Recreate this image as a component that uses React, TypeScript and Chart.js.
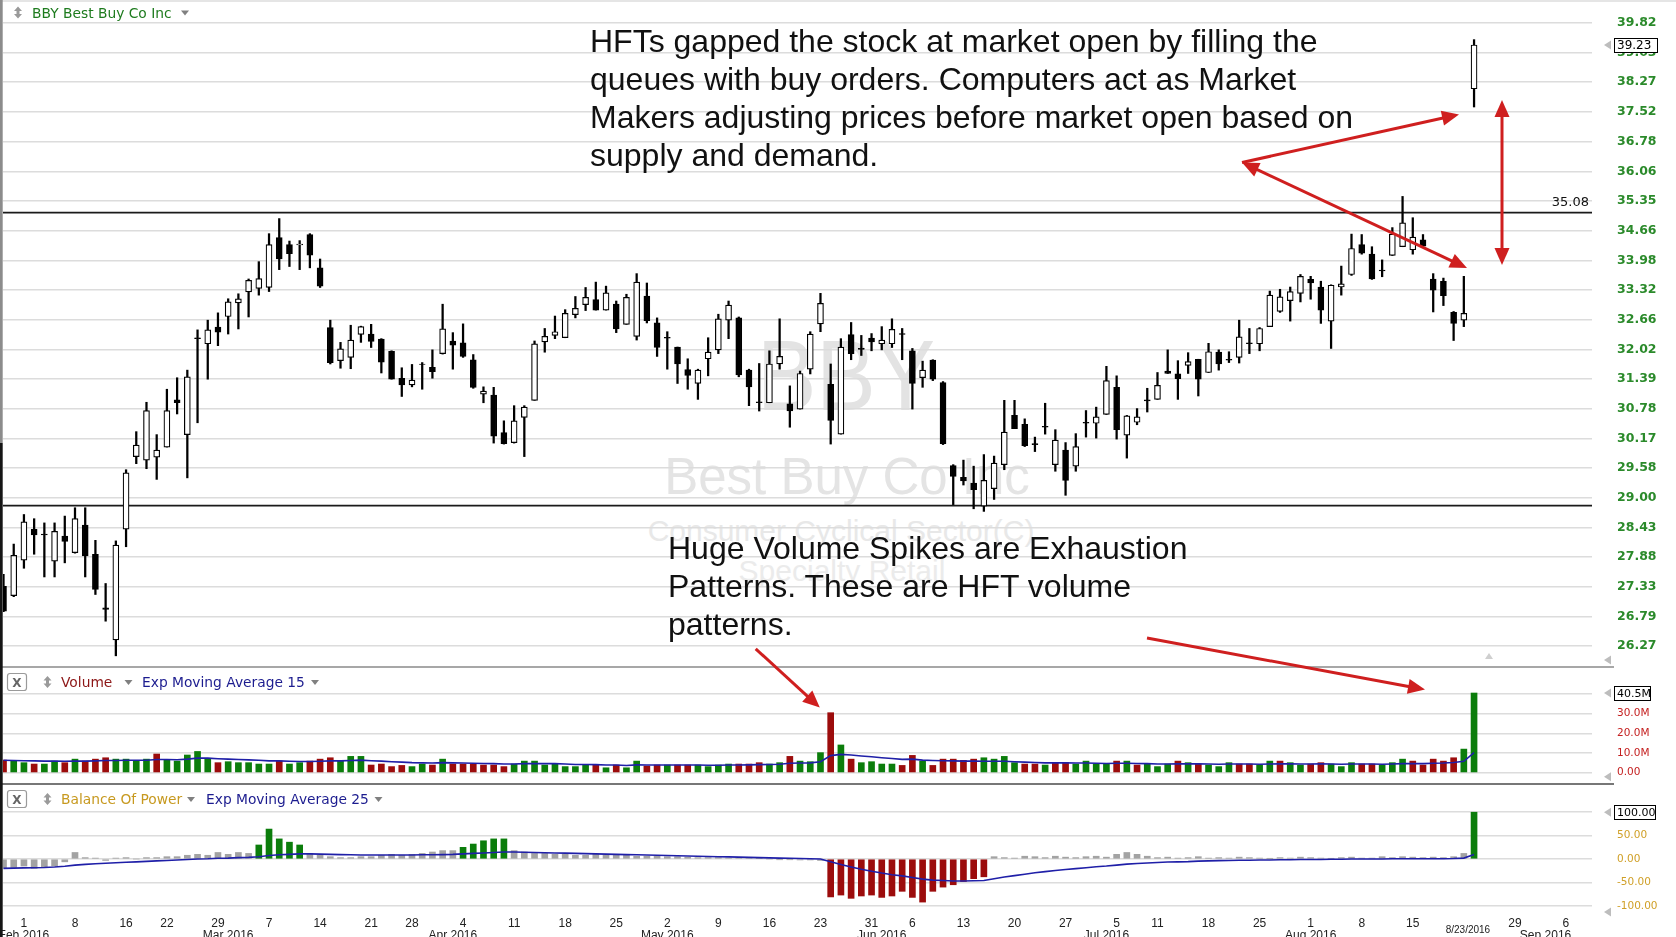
import React, { useEffect, useRef } from 'react';
import { Chart, registerables } from 'chart.js';

Chart.register(...registerables);

// ---------------- data (trading-day index: 0 = Feb 1 2016) ----------------
const FIRST_INDEX = -2;

const opens = [
  27.34, 27.17, 27.82, 28.40, 28.31, 27.80, 28.27, 27.96, 28.48, 27.93,
  26.95, 26.38, 28.40, 29.81, 29.74, 29.80, 30.00, 30.96, 30.25, 32.27,
  32.14, 32.50, 32.73, 33.03, 33.27, 33.35, 33.37, 34.50, 34.34, 34.33,
  34.57, 33.81, 32.49, 31.78, 31.85, 32.34, 32.35, 32.24, 31.98, 31.41,
  31.27, 31.71, 31.64, 31.93, 32.20, 32.16, 31.80, 31.08, 31.06, 30.29,
  30.09, 30.60, 30.95, 32.18, 32.32, 32.27, 32.77, 32.99, 33.10, 32.87,
  33.00, 32.56, 32.30, 33.18, 32.59, 32.28, 32.07, 31.59, 31.30, 31.82,
  32.01, 32.65, 32.70, 31.58, 30.92, 30.90, 31.71, 30.88, 30.77, 31.60,
  32.57, 31.28, 30.26, 32.34, 32.04, 32.26, 32.14, 32.14, 32.36, 31.99,
  31.42, 31.79, 31.32, 29.63, 29.40, 29.29, 28.84, 29.18, 29.65, 30.64,
  30.46, 30.07, 30.42, 29.65, 29.94, 29.62, 30.50, 30.48, 30.66, 31.22,
  30.24, 30.50, 30.96, 30.97, 31.56, 31.50, 31.68, 31.81, 31.53, 31.96,
  31.81, 31.85, 32.16, 32.14, 32.51, 32.84, 33.08, 33.24, 33.55, 33.38,
  32.63, 33.38, 33.66, 34.34, 34.12, 33.76, 34.09, 34.29, 34.22, 34.45,
  33.56, 33.51, 32.82, 32.65, 38.10,
];
const highs = [
  27.56, 28.12, 28.68, 28.60, 28.52, 28.52, 28.65, 28.81, 28.81, 28.19,
  27.39, 28.18, 29.55, 30.31, 30.91, 30.25, 31.18, 31.42, 31.58, 32.44,
  32.65, 32.81, 33.12, 33.23, 33.56, 33.95, 34.59, 34.94, 34.42, 34.43,
  34.59, 34.01, 32.65, 32.17, 32.54, 32.52, 32.56, 32.25, 31.99, 31.63,
  31.70, 31.74, 32.01, 33.00, 32.38, 32.57, 31.91, 31.23, 31.22, 30.53,
  30.84, 30.84, 32.20, 32.47, 32.74, 32.88, 33.17, 33.37, 33.49, 33.40,
  33.07, 33.22, 33.68, 33.47, 32.70, 32.40, 32.07, 31.82, 31.60, 32.27,
  32.78, 33.07, 32.72, 31.60, 31.72, 31.99, 32.68, 31.25, 31.56, 32.40,
  33.24, 31.71, 32.25, 32.60, 32.32, 32.36, 32.51, 32.68, 32.47, 32.04,
  31.77, 31.80, 31.34, 29.65, 29.74, 29.62, 29.85, 29.82, 30.95, 30.95,
  30.57, 30.20, 30.89, 30.35, 30.09, 30.27, 30.74, 30.81, 31.66, 31.46,
  30.64, 30.78, 31.20, 31.53, 32.01, 31.78, 31.95, 31.81, 32.15, 32.01,
  31.97, 32.65, 32.47, 32.49, 33.29, 33.33, 33.38, 33.66, 33.62, 33.51,
  33.43, 33.85, 34.58, 34.57, 34.29, 33.99, 34.73, 35.46, 34.96, 34.57,
  33.68, 33.58, 32.84, 33.62, 39.37,
];
const lows = [
  26.88, 27.15, 27.67, 27.93, 27.51, 27.51, 27.77, 27.95, 27.51, 27.19,
  26.71, 26.10, 28.07, 29.67, 29.57, 29.36, 30.00, 30.67, 29.39, 30.49,
  31.39, 32.10, 32.35, 32.46, 32.72, 33.20, 33.28, 33.77, 33.84, 33.77,
  33.81, 33.37, 31.71, 31.62, 31.61, 32.17, 32.06, 31.52, 31.39, 31.03,
  31.23, 31.18, 31.41, 31.92, 31.60, 31.85, 31.20, 30.90, 30.08, 30.06,
  30.08, 29.81, 30.95, 31.96, 32.25, 32.27, 32.70, 32.86, 32.87, 32.87,
  32.38, 32.56, 32.22, 32.59, 31.87, 31.60, 31.30, 31.18, 30.97, 31.46,
  31.93, 32.25, 31.44, 30.84, 30.73, 30.90, 31.60, 30.40, 30.77, 31.50,
  32.40, 30.06, 30.26, 31.80, 31.89, 31.99, 32.01, 32.06, 31.80, 30.77,
  31.22, 31.36, 30.05, 28.87, 29.25, 28.79, 28.74, 28.97, 29.55, 30.37,
  30.01, 29.91, 30.26, 29.52, 29.05, 29.52, 30.20, 30.18, 30.66, 30.16,
  29.78, 30.45, 30.71, 30.97, 31.51, 30.97, 31.51, 31.04, 31.53, 31.58,
  31.74, 31.73, 31.93, 31.99, 32.51, 32.82, 32.63, 33.05, 33.11, 32.58,
  32.04, 33.20, 33.64, 34.12, 33.55, 33.61, 34.09, 34.29, 34.12, 34.29,
  32.83, 32.97, 32.21, 32.51, 37.64,
];
const closes = [
  26.89, 27.91, 28.54, 28.29, 28.29, 28.36, 28.17, 28.60, 27.90, 27.28,
  26.92, 28.10, 29.49, 30.04, 30.74, 29.94, 30.74, 30.90, 31.44, 32.25,
  32.44, 32.39, 33.05, 33.12, 33.53, 33.57, 34.34, 34.01, 34.13, 34.35,
  34.10, 33.40, 31.74, 32.03, 32.22, 32.51, 32.19, 31.75, 31.39, 31.27,
  31.37, 31.70, 31.55, 32.46, 32.11, 31.87, 31.22, 31.14, 30.22, 30.07,
  30.53, 30.81, 32.14, 32.30, 32.40, 32.80, 32.91, 33.15, 32.87, 33.25,
  32.46, 33.15, 33.49, 32.64, 32.06, 32.26, 31.71, 31.47, 31.58, 31.96,
  32.68, 32.98, 31.48, 31.23, 30.90, 31.71, 31.87, 30.73, 31.51, 32.35,
  33.02, 30.54, 32.07, 31.93, 32.02, 32.18, 32.22, 32.45, 32.34, 31.30,
  31.58, 31.39, 30.07, 29.42, 29.33, 29.16, 29.34, 29.68, 30.30, 30.37,
  30.03, 30.05, 30.40, 30.14, 29.34, 30.01, 30.48, 30.61, 31.36, 30.35,
  30.63, 30.61, 30.94, 31.26, 31.51, 31.40, 31.76, 31.39, 31.97, 31.71,
  31.79, 32.29, 32.14, 32.47, 33.20, 33.16, 33.28, 33.62, 33.47, 32.87,
  33.42, 33.45, 34.25, 34.14, 33.56, 33.74, 34.58, 34.84, 34.51, 34.30,
  33.31, 33.19, 32.58, 32.80, 39.23,
];

// volume in millions of shares, 1 = up day (green), 0 = down day (red)
const volumesM = [
  6.4, 6.1, 5.1, 4.4, 4.4, 5.9, 5.1, 6.9, 5.9, 6.9,
  7.6, 6.9, 6.9, 5.9, 6.9, 9.5, 6.4, 5.9, 9.0, 10.8,
  7.3, 5.1, 5.6, 5.1, 5.1, 4.4, 4.4, 5.9, 4.4, 5.1,
  5.9, 6.9, 7.6, 6.1, 8.3, 8.3, 3.9, 4.4, 3.1, 3.7,
  3.1, 4.4, 3.9, 6.9, 4.4, 4.4, 4.4, 3.9, 3.9, 3.1,
  4.4, 5.9, 5.9, 3.9, 4.4, 3.1, 3.1, 3.9, 3.9, 2.5,
  3.9, 2.5, 5.9, 3.4, 3.9, 3.9, 3.9, 3.9, 3.9, 3.1,
  3.9, 4.4, 4.4, 4.4, 5.1, 4.4, 5.1, 8.3, 5.9, 5.6,
  10.2, 30.5, 14.1, 6.9, 5.1, 5.6, 4.4, 4.4, 3.7, 8.8,
  5.9, 3.7, 6.9, 6.9, 6.3, 6.9, 7.6, 6.9, 8.3, 5.1,
  4.4, 4.4, 3.9, 5.1, 5.1, 4.4, 5.9, 4.4, 4.4, 5.9,
  5.9, 3.9, 4.4, 3.1, 4.4, 5.9, 5.1, 4.4, 3.9, 3.1,
  5.1, 4.4, 4.4, 3.9, 5.9, 5.9, 5.1, 3.9, 4.4, 5.1,
  4.4, 3.1, 5.1, 4.4, 4.4, 3.9, 5.1, 6.9, 5.9, 3.9,
  6.9, 5.9, 7.6, 12.0, 40.5,
];
const volumeUp = [
  0, 1, 1, 0, 1, 1, 0, 1, 0, 0,
  0, 1, 1, 1, 1, 0, 1, 1, 1, 1,
  1, 0, 1, 1, 1, 1, 1, 0, 1, 1,
  0, 0, 0, 1, 1, 1, 0, 0, 0, 0,
  1, 1, 0, 1, 0, 0, 0, 0, 0, 0,
  1, 1, 1, 1, 1, 1, 1, 1, 0, 1,
  0, 1, 1, 0, 0, 1, 0, 0, 1, 1,
  1, 1, 0, 0, 0, 1, 1, 0, 1, 1,
  1, 0, 1, 0, 1, 1, 1, 1, 0, 0,
  1, 0, 0, 0, 0, 0, 1, 1, 1, 1,
  0, 0, 1, 0, 0, 1, 1, 1, 1, 0,
  1, 0, 1, 1, 1, 0, 1, 0, 1, 1,
  1, 0, 0, 1, 1, 0, 1, 1, 0, 0,
  1, 1, 1, 0, 0, 1, 1, 1, 0, 0,
  0, 0, 0, 1, 1,
];
const volumeEma15 = [
  6.3, 6.2, 6.1, 6.0, 5.9, 5.9, 5.8, 5.9, 5.9, 6.0,
  6.2, 6.2, 6.3, 6.3, 6.3, 6.7, 6.7, 6.6, 6.9, 7.4,
  7.4, 7.1, 6.9, 6.7, 6.5, 6.3, 6.0, 6.0, 5.8, 5.7,
  5.7, 5.8, 6.0, 6.0, 6.2, 6.4, 6.1, 5.9, 5.6, 5.4,
  5.1, 5.0, 4.9, 5.1, 5.0, 4.9, 4.8, 4.7, 4.6, 4.4,
  4.4, 4.6, 4.7, 4.6, 4.6, 4.4, 4.2, 4.2, 4.1, 3.9,
  3.9, 3.7, 4.0, 3.9, 3.9, 3.9, 3.9, 3.9, 3.9, 3.8,
  3.8, 3.9, 3.9, 4.0, 4.1, 4.2, 4.3, 4.8, 4.9, 5.0,
  5.6, 8.7, 9.3, 9.0, 8.5, 8.1, 7.6, 7.2, 6.8, 6.9,
  6.4, 6.2, 6.1, 6.0, 5.9, 5.9, 5.8, 5.8, 5.8, 5.6,
  5.4, 5.2, 5.0, 5.0, 5.0, 4.9, 4.9, 4.8, 4.7, 4.8,
  4.8, 4.7, 4.6, 4.4, 4.4, 4.5, 4.5, 4.5, 4.4, 4.3,
  4.4, 4.4, 4.4, 4.3, 4.4, 4.5, 4.5, 4.4, 4.4, 4.5,
  4.4, 4.3, 4.4, 4.4, 4.4, 4.3, 4.4, 4.6, 4.7, 4.6,
  4.8, 4.9, 5.2, 5.8, 10.2,
];
const bopValues = [
  -20, -18, -15, -20, -18, -15, -6, 14, 3, 2,
  -3, 2, 3, 0, 3, 3, 5, 5, 8, 10,
  8, 14, 10, 14, 12, 30, 64, 43, 36, 30,
  12, 8, 5, 3, 3, 5, 5, 8, 10, 8,
  10, 12, 15, 18, 18, 25, 32, 39, 43, 43,
  18, 15, 12, 12, 10, 10, 8, 8, 10, 8,
  8, 8, 6, 6, 6, 5, 5, 4, 3, 3,
  3, 2, 2, 2, 1, 0, -1, -1, -2, -2,
  -3, -81, -77, -84, -79, -77, -82, -79, -69, -82,
  -92, -69, -60, -55, -48, -42, -38, 5, 3, 2,
  6, 5, 3, 6, 4, 3, 5, 6, 4, 10,
  14, 10, 6, 3, 4, 2, 3, 5, 2, 3,
  2, 4, 3, 2, 1, 3, 2, 4, 3, 2,
  1, 3, 4, 2, 2, 5, 3, 5, 4, 3,
  4, 3, 5, 12, 100,
];
const bopEma25 = [
  -20, -19.5, -19, -18.5, -18, -17, -15.5, -13, -11.5, -10,
  -9, -8, -7, -6, -5, -4, -3, -2, -1, 0,
  0.5, 1.5, 2, 3, 3.5, 5, 7.5, 9, 10, 11,
  11, 10.5, 10, 9.5, 9, 8.5, 8.5, 8.5, 8.5, 8.5,
  8.5, 9, 9, 9.5, 10, 11, 12, 13, 14, 15,
  15, 14.5, 14, 13.5, 13, 12.5, 12, 11.5, 11, 10.5,
  10, 9.5, 9, 8.5, 8, 7.5, 7, 6.5, 6, 5.5,
  5, 4.5, 4, 3.5, 3, 2.5, 2, 1.5, 1, 0.5,
  0, -6, -11.5, -17, -22, -26, -30, -33.5, -36, -39.5,
  -43, -45, -46, -47, -47, -46.5, -46, -42, -38.5, -35.5,
  -32.5, -29.5, -27, -24.5, -22.5, -20.5, -18.5, -16.5, -15, -13,
  -11, -9.5, -8.5, -7.5, -6.5, -6, -5.5, -4.5, -4, -3.5,
  -3, -2.5, -2.5, -2, -2, -1.5, -1.5, -1, -1, -1,
  -0.5, -0.5, 0, 0, 0, 0, 0.5, 0.5, 0.5, 0.5,
  0.5, 0.5, 1, 2, 9.5,
];

const priceTicks = [39.82, 39.03, 38.27, 37.52, 36.78, 36.06, 35.35, 34.66, 33.98, 33.32, 32.66,
  32.02, 31.39, 30.78, 30.17, 29.58, 29.0, 28.43, 27.88, 27.33, 26.79, 26.27];
const volumeTicks = [0, 10, 20, 30, 40];
const bopTicks = [-100, -50, 0, 50, 100];
const dayTickIdx = [0, 5, 10, 14, 19, 24, 29, 34, 38, 43, 48, 53, 58, 63, 68, 73, 78, 83, 87, 92, 97,
  102, 107, 111, 116, 121, 126, 131, 136, 141.4, 146, 151];
const dayTickLabels = ['1', '8', '16', '22', '29', '7', '14', '21', '28', '4', '11', '18', '25', '2', '9',
  '16', '23', '31', '6', '13', '20', '27', '5', '11', '18', '25', '1', '8', '15', '8/23/2016', '29', '6'];
const monthTickIdx = [0, 20, 42, 63, 84, 106, 126, 149];
const monthTickLabels = ['Feb 2016', 'Mar 2016', 'Apr 2016', 'May 2016', 'Jun 2016', 'Jul 2016', 'Aug 2016', 'Sep 2016'];
const resistanceLevel = 35.08;
const supportLevel = 28.85;
const lastVolumeLabel = 40.5;
const lastBopLabel = 100;

// ---------------- layout / style ----------------
const X_MIN = -2.05;
const X_MAX = 153.55;
const AXIS_W = 84;
const GRID = '#dcdcdc';
const GREEN = '#0b7d0b';
const DARKRED = '#9c0c0c';
const NAVY = '#1f1fa8';
const FONT = "'DejaVu Sans', Verdana, sans-serif";
const ARROW = '#cf1f1f';

const xs = opens.map((_, i) => FIRST_INDEX + i);

const fitY = (s: any) => { s.width = AXIS_W; s.paddingTop = 0; s.paddingBottom = 0; };
const fitHidden = (s: any) => { s.paddingLeft = 0; s.paddingRight = 0; s.paddingTop = 0; s.paddingBottom = 0; };

const hiddenX: any = {
  type: 'linear', min: X_MIN, max: X_MAX, offset: false, bounds: 'data', display: false,
  grid: { display: false }, afterFit: fitHidden,
};

const baseOptions = (scales: any, plugins: any = {}) => ({
  animation: false,
  responsive: false,
  maintainAspectRatio: false,
  events: [],
  layout: { padding: { left: 3, right: 0, top: 0, bottom: 0 } },
  plugins: { legend: { display: false }, tooltip: { enabled: false }, ...plugins },
  scales,
});

function drawTri(ctx: any, y: number) {
  ctx.fillStyle = '#bdbdbd';
  ctx.beginPath();
  ctx.moveTo(1604, y);
  ctx.lineTo(1611, y - 4.5);
  ctx.lineTo(1611, y + 4.5);
  ctx.closePath();
  ctx.fill();
}
function drawBox(ctx: any, y: number, text: string, w: number, font: string) {
  const yy = Math.round(y) + 0.5;
  ctx.fillStyle = '#fff';
  ctx.fillRect(1614.5, yy - 7, w, 14);
  ctx.strokeStyle = '#000';
  ctx.lineWidth = 1;
  ctx.strokeRect(1614.5, yy - 7, w, 14);
  ctx.fillStyle = '#000';
  ctx.font = font;
  ctx.textAlign = 'left';
  ctx.textBaseline = 'middle';
  ctx.fillText(text, 1617, yy + 0.5);
}

function xLabel(v: number): any {
  const d = dayTickIdx.findIndex((t) => Math.abs(t - v) < 1e-6);
  const m = monthTickIdx.findIndex((t) => Math.abs(t - v) < 1e-6);
  if (d >= 0 && dayTickLabels[d].length > 4) return dayTickLabels[d];
  return [d >= 0 ? dayTickLabels[d] : '', m >= 0 ? monthTickLabels[m] : ''];
}
const xTickValues = Array.from(new Set([...dayTickIdx, ...monthTickIdx])).sort((a, b) => a - b);

function priceConfig(): any {
  const lastClose = closes[closes.length - 1];
  return {
    type: 'bar',
    data: {
      datasets: [
        {
          type: 'bar', label: 'body', order: 0, grouped: false, barThickness: 6,
          data: xs.map((x, i) => ({ x, y: [opens[i], closes[i]] })),
          backgroundColor: xs.map((_, i) => (closes[i] >= opens[i] ? '#ffffff' : '#000000')),
          borderColor: '#000', borderWidth: 1.2, borderSkipped: false,
        },
        {
          type: 'bar', label: 'wick', order: 1, grouped: false, barThickness: 1.6,
          data: xs.map((x, i) => ({ x, y: [lows[i], highs[i]] })),
          backgroundColor: '#000', borderWidth: 0,
        },
        {
          type: 'line', label: 'resistance', order: 2,
          data: [{ x: X_MIN, y: resistanceLevel }, { x: X_MAX, y: resistanceLevel }],
          borderColor: '#1a1a1a', borderWidth: 1.6, pointRadius: 0,
        },
        {
          type: 'line', label: 'support', order: 2,
          data: [{ x: X_MIN, y: supportLevel }, { x: X_MAX, y: supportLevel }],
          borderColor: '#1a1a1a', borderWidth: 1.6, pointRadius: 0,
        },
      ],
    },
    options: baseOptions({
      x: hiddenX,
      y: {
        type: 'logarithmic', position: 'right', min: 25.906, max: 40.425, bounds: 'data',
        grid: { color: GRID, lineWidth: 1.5, drawTicks: false },
        border: { display: false },
        afterBuildTicks: (s: any) => { s.ticks = priceTicks.map((v) => ({ value: v })); },
        afterFit: fitY,
        ticks: {
          autoSkip: false, padding: 25, color: '#2b8a2b',
          font: { family: FONT, size: 12.5, weight: 'bold' },
          callback: (v: any) => Number(v).toFixed(2),
        },
      },
    }),
    plugins: [{
      id: 'priceMarks',
      afterDraw(chart: any) {
        const ctx = chart.ctx;
        const s = chart.scales.y;
        ctx.save();
        const ly = s.getPixelForValue(lastClose);
        drawTri(ctx, ly);
        drawBox(ctx, ly, lastClose.toFixed(2), 43, `12px ${FONT}`);
        drawTri(ctx, 660);
        const ry = s.getPixelForValue(resistanceLevel);
        ctx.fillStyle = '#111';
        ctx.font = `13px ${FONT}`;
        ctx.textAlign = 'right';
        ctx.textBaseline = 'middle';
        ctx.fillText(resistanceLevel.toFixed(2), chart.chartArea.right - 3, ry - 10);
        ctx.restore();
      },
    }],
  };
}

function volumeConfig(): any {
  return {
    type: 'bar',
    data: {
      datasets: [
        {
          type: 'line', label: 'Exp Moving Average 15', order: 0,
          data: xs.map((x, i) => ({ x, y: volumeEma15[i] })),
          borderColor: NAVY, borderWidth: 1.6, pointRadius: 0, tension: 0,
        },
        {
          type: 'bar', label: 'Volume', order: 1, grouped: false, barThickness: 6,
          data: xs.map((x, i) => ({ x, y: volumesM[i] })),
          backgroundColor: xs.map((_, i) => (volumeUp[i] ? GREEN : DARKRED)),
          borderWidth: 0,
        },
      ],
    },
    options: baseOptions({
      x: hiddenX,
      y: {
        type: 'linear', position: 'right', min: -5.74, max: 53.72, bounds: 'data',
        grid: { color: GRID, lineWidth: 1.5, drawTicks: false },
        border: { display: false },
        afterBuildTicks: (s: any) => { s.ticks = volumeTicks.map((v) => ({ value: v })); },
        afterFit: fitY,
        ticks: {
          autoSkip: false, padding: 25, color: '#c42020',
          font: { family: FONT, size: 10.5 },
          callback: (v: any) => (v === 40 ? '' : v === 0 ? '0.00' : Number(v).toFixed(1) + 'M'),
        },
      },
    }),
    plugins: [{
      id: 'volMarks',
      afterDraw(chart: any) {
        const ctx = chart.ctx;
        const s = chart.scales.y;
        ctx.save();
        const y = s.getPixelForValue(lastVolumeLabel);
        drawTri(ctx, y);
        drawBox(ctx, y, lastVolumeLabel.toFixed(1) + 'M', 36, `11px ${FONT}`);
        drawTri(ctx, s.getPixelForValue(0) + 4);
        ctx.restore();
      },
    }],
  };
}

function bopConfig(): any {
  return {
    type: 'bar',
    data: {
      datasets: [
        {
          type: 'line', label: 'Exp Moving Average 25', order: 0,
          data: xs.map((x, i) => ({ x, y: bopEma25[i] })),
          borderColor: NAVY, borderWidth: 1.6, pointRadius: 0, tension: 0,
        },
        {
          type: 'bar', label: 'Balance Of Power', order: 1, grouped: false, barThickness: 6,
          data: xs.map((x, i) => ({ x, y: bopValues[i] })),
          backgroundColor: bopValues.map((v) => (v > 22 ? GREEN : v < -22 ? DARKRED : '#a3a3a3')),
          borderWidth: 0,
        },
      ],
    },
    options: baseOptions({
      x: {
        type: 'linear', min: X_MIN, max: X_MAX, offset: false, bounds: 'data', position: 'bottom',
        grid: { display: false, drawTicks: false },
        border: { display: false },
        afterBuildTicks: (s: any) => { s.ticks = xTickValues.map((v) => ({ value: v })); },
        afterFit: (s: any) => { s.height = 25; s.paddingLeft = 0; s.paddingRight = 0; },
        ticks: {
          autoSkip: false, maxRotation: 0, minRotation: 0, padding: 6, color: '#222',
          font: (c: any) => (c.tick && Math.abs(c.tick.value - 141.4) < 1e-6
            ? { family: "'Liberation Sans Narrow', 'Liberation Sans', sans-serif", size: 10, lineHeight: 2.4 }
            : { family: "'Liberation Sans Narrow', 'Liberation Sans', sans-serif", size: 12, lineHeight: 1 }),
          callback: (v: any) => xLabel(Number(v)),
        },
      },
      y: {
        type: 'linear', position: 'right', min: -113.2, max: 160.3, bounds: 'data',
        grid: { color: GRID, lineWidth: 1.5, drawTicks: false },
        border: { display: false },
        afterBuildTicks: (s: any) => { s.ticks = bopTicks.map((v) => ({ value: v })); },
        afterFit: fitY,
        ticks: {
          autoSkip: false, padding: 25, color: '#d0a028',
          font: { family: FONT, size: 10.5 },
          callback: (v: any) => (v === 100 ? '' : Number(v).toFixed(2)),
        },
      },
    }),
    plugins: [{
      id: 'bopMarks',
      afterDraw(chart: any) {
        const ctx = chart.ctx;
        const s = chart.scales.y;
        ctx.save();
        const y = s.getPixelForValue(lastBopLabel);
        drawTri(ctx, y);
        drawBox(ctx, y, lastBopLabel.toFixed(2), 41, `11px ${FONT}`);
        drawTri(ctx, chart.chartArea.bottom);
        ctx.restore();
      },
    }],
  };
}

// ---------------- overlay helpers ----------------
function Arrow({ x1, y1, x2, y2, start = false, end = true }: any) {
  const len = 17;
  const half = 7.5;
  const dx = x2 - x1;
  const dy = y2 - y1;
  const L = Math.hypot(dx, dy);
  const ux = dx / L;
  const uy = dy / L;
  const head = (tx: number, ty: number, dx2: number, dy2: number) => {
    const bx = tx - dx2 * len;
    const by = ty - dy2 * len;
    return `${tx},${ty} ${bx - dy2 * half},${by + dx2 * half} ${bx + dy2 * half},${by - dx2 * half}`;
  };
  const sx = start ? x1 + ux * (len - 3) : x1;
  const sy = start ? y1 + uy * (len - 3) : y1;
  const ex = end ? x2 - ux * (len - 3) : x2;
  const ey = end ? y2 - uy * (len - 3) : y2;
  return (
    <g>
      <line x1={sx} y1={sy} x2={ex} y2={ey} stroke={ARROW} strokeWidth={3} />
      {end && <polygon points={head(x2, y2, ux, uy)} fill={ARROW} />}
      {start && <polygon points={head(x1, y1, -ux, -uy)} fill={ARROW} />}
    </g>
  );
}

function UpDown({ cx, cy }: any) {
  const d = `M${cx},${cy - 6} L${cx + 4},${cy - 1.5} L${cx + 1.5},${cy - 1.5} L${cx + 1.5},${cy + 1.5} L${cx + 4},${cy + 1.5} L${cx},${cy + 6} L${cx - 4},${cy + 1.5} L${cx - 1.5},${cy + 1.5} L${cx - 1.5},${cy - 1.5} L${cx - 4},${cy - 1.5} Z`;
  return <path d={d} fill="#9a9a9a" />;
}
function Drop({ x, y }: any) {
  return <polygon points={`${x},${y} ${x + 8},${y} ${x + 4},${y + 5}`} fill="#808080" />;
}
function XBox({ x, y }: any) {
  return (
    <g>
      <rect x={x} y={y} width={19} height={17} rx={2.5} fill="#fff" stroke="#9a9a9a" strokeWidth={1.2} />
      <text x={x + 9.5} y={y + 13} textAnchor="middle" fontFamily={FONT} fontSize={12} fontWeight="bold" fill="#666">X</text>
    </g>
  );
}

export default function App() {
  const priceRef = useRef<HTMLCanvasElement>(null);
  const volRef = useRef<HTMLCanvasElement>(null);
  const bopRef = useRef<HTMLCanvasElement>(null);

  useEffect(() => {
    Chart.defaults.font.family = FONT;
    const charts: any[] = [];
    if (priceRef.current) charts.push(new Chart(priceRef.current, priceConfig()));
    if (volRef.current) charts.push(new Chart(volRef.current, volumeConfig()));
    if (bopRef.current) charts.push(new Chart(bopRef.current, bopConfig()));
    return () => charts.forEach((c) => c.destroy());
  }, []);

  const serif = "'Liberation Sans', Arial, sans-serif";
  const hdr = { fontFamily: FONT, fontSize: 13.8 } as any;

  return (
    <div style={{ position: 'absolute', left: 0, top: 0, width: 1676, height: 937, background: '#fff', overflow: 'hidden' }}>
      {/* watermark behind the price chart */}
      <svg width={1676} height={667} style={{ position: 'absolute', left: 0, top: 0 }}>
        <text transform="translate(846,410) scale(0.89,1)" textAnchor="middle" fontFamily={serif} fontSize={100} fill="#e3e3e3">BBY</text>
        <text x={847} y={494} textAnchor="middle" fontFamily={serif} fontSize={51} fill="#e4e4e4">Best Buy Co Inc</text>
        <text x={841} y={541} textAnchor="middle" fontFamily={serif} fontSize={30} fill="#e8e8e8">Consumer Cyclical Sector(C)</text>
        <text x={842} y={581} textAnchor="middle" fontFamily={serif} fontSize={30} fill="#ebebeb">Specialty Retail</text>
      </svg>

      <canvas ref={priceRef} width={1676} height={667} style={{ position: 'absolute', left: 0, top: 0 }} />
      <canvas ref={volRef} width={1676} height={117} style={{ position: 'absolute', left: 0, top: 667 }} />
      <canvas ref={bopRef} width={1676} height={153} style={{ position: 'absolute', left: 0, top: 784 }} />

      <svg width={1676} height={937} style={{ position: 'absolute', left: 0, top: 0, pointerEvents: 'none' }}>
        {/* panel separators and borders */}
        <line x1={0} y1={1} x2={1676} y2={1} stroke="#dddddd" strokeWidth={1.5} />
        <line x1={0} y1={667} x2={1614} y2={667} stroke="#8a8a8a" strokeWidth={1.6} />
        <line x1={0} y1={784} x2={1614} y2={784} stroke="#777777" strokeWidth={1.8} />
        <rect x={0} y={0} width={2.7} height={443} fill="#8c8c8c" />
        <rect x={0} y={443} width={2.7} height={494} fill="#151515" />
        <polygon points="1485,659 1493,659 1489,653" fill="#cfcfcf" />

        {/* price header */}
        <UpDown cx={18} cy={12.5} />
        <text x={32} y={18} {...hdr} fill="#1e7b1e">BBY Best Buy Co Inc</text>
        <Drop x={181} y={10.5} />

        {/* volume header */}
        <XBox x={7.5} y={673.5} />
        <UpDown cx={47.5} cy={682} />
        <text x={61} y={687} {...hdr} fill="#8c1515">Volume</text>
        <Drop x={124.5} y={680} />
        <text x={142} y={687} {...hdr} fill="#1c1c8f">Exp Moving Average 15</text>
        <Drop x={311} y={680} />

        {/* balance of power header */}
        <XBox x={7.5} y={790.5} />
        <UpDown cx={47.5} cy={799} />
        <text x={61} y={804} {...hdr} fill="#c7991f">Balance Of Power</text>
        <Drop x={187} y={797} />
        <text x={206} y={804} {...hdr} fill="#1c1c8f">Exp Moving Average 25</text>
        <Drop x={374.5} y={797} />

        {/* annotations */}
        <text fontFamily={serif} fontSize={32} fill="#111">
          <tspan x={590} y={51.8}>HFTs gapped the stock at market open by filling the</tspan>
          <tspan x={590} y={89.8}>queues with buy orders. Computers act as Market</tspan>
          <tspan x={590} y={127.8}>Makers adjusting prices before market open based on</tspan>
          <tspan x={590} y={165.8}>supply and demand.</tspan>
        </text>
        <text fontFamily={serif} fontSize={32} fill="#111">
          <tspan x={668} y={558.8}>Huge Volume Spikes are Exhaustion</tspan>
          <tspan x={668} y={596.8}>Patterns. These are HFT volume</tspan>
          <tspan x={668} y={634.8}>patterns.</tspan>
        </text>

        <Arrow x1={1242} y1={162.5} x2={1459} y2={114.4} />
        <Arrow x1={1242} y1={162.5} x2={1467} y2={268} start />
        <Arrow x1={1502} y1={100} x2={1502} y2={265} start />
        <Arrow x1={755.7} y1={648.8} x2={819.8} y2={707.6} />
        <Arrow x1={1147} y1={638} x2={1425} y2={689.5} />
      </svg>
    </div>
  );
}
